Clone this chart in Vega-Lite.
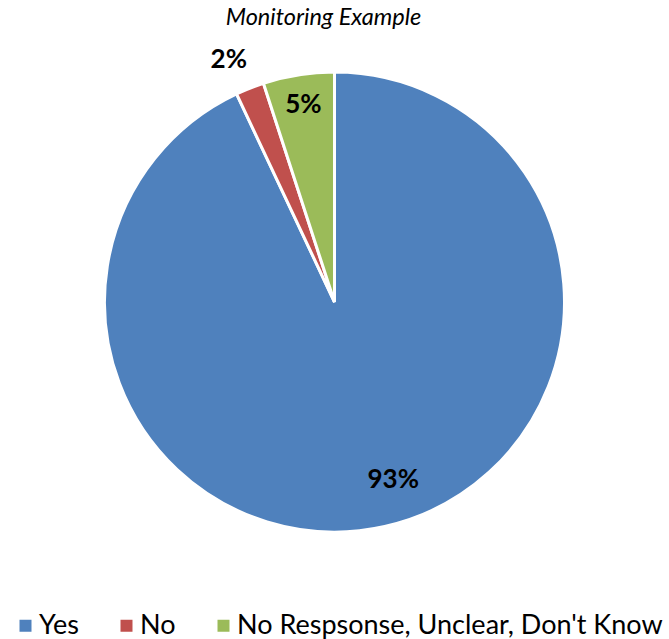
{
  "$schema": "https://vega.github.io/schema/vega-lite/v6.json",
  "width": 669,
  "height": 524,
  "autosize": "none",
  "padding": {"top": 40, "left": 0, "right": 0, "bottom": 75},
  "background": "white",
  "title": {
    "text": "Monitoring Example",
    "font": "Lato",
    "fontSize": 23.5,
    "fontStyle": "italic",
    "fontWeight": "normal",
    "color": "black",
    "anchor": "middle",
    "frame": "group",
    "offset": 11,
    "dx": -11
  },
  "data": {
    "values": [
      {"category": "Yes", "value": 0.93, "order": 1},
      {"category": "No", "value": 0.02, "order": 2},
      {"category": "No Respsonse, Unclear, Don't Know", "value": 0.05, "order": 3}
    ]
  },
  "encoding": {
    "theta": {"field": "value", "type": "quantitative", "stack": true},
    "order": {"field": "order", "type": "quantitative"}
  },
  "layer": [
    {
      "mark": {"type": "arc", "outerRadius": 230, "stroke": "white", "strokeWidth": 3},
      "encoding": {
        "color": {
          "field": "category",
          "type": "nominal",
          "sort": ["Yes", "No", "No Respsonse, Unclear, Don't Know"],
          "scale": {
            "domain": ["Yes", "No", "No Respsonse, Unclear, Don't Know"],
            "range": ["#4F81BD", "#C0504D", "#9BBB59"]
          },
          "legend": {
            "title": null,
            "orient": "none",
            "legendX": 12,
            "legendY": 572,
            "padding": 0,
            "direction": "horizontal",
            "symbolType": "square",
            "symbolSize": 144,
            "symbolStrokeWidth": 0,
            "labelFont": "Lato",
            "labelFontSize": 27,
            "labelColor": "black",
            "labelOffset": 0,
            "columnPadding": 34,
            "labelLimit": 700
          }
        }
      }
    },
    {
      "mark": {
        "type": "text",
        "font": "Lato",
        "fontSize": 26,
        "fontWeight": "bold",
        "color": "black",
        "radius": {"expr": "datum.category === 'Yes' ? 182 : datum.category === 'No' ? 260 : 199"},
        "dx": {"expr": "datum.category === 'Yes' ? 19 : datum.category === 'No' ? -10 : 0"}
      },
      "encoding": {
        "text": {"field": "value", "type": "quantitative", "format": ".0%"}
      }
    }
  ],
  "config": {"view": {"stroke": null}}
}
